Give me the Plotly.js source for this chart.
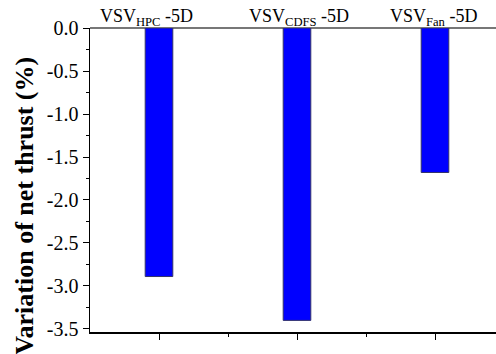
<!DOCTYPE html>
<html>
<head>
<meta charset="utf-8">
<script src="https://cdn.plot.ly/plotly-3.0.1.min.js"></script>
<style>html,body{margin:0;padding:0;background:#fff;overflow:hidden}</style>
</head>
<body>
<div id="chart" style="width:496px;height:354px"></div>
<script>
const categories = ["VSV<sub>HPC</sub> -5D", "VSV<sub>CDFS</sub> -5D", "VSV<sub>Fan</sub> -5D"];
const thrustVariation = [-2.89, -3.40, -1.68];
const yTickVals = [0, -0.5, -1.0, -1.5, -2.0, -2.5, -3.0, -3.5];
const yTickText = ["0.0", "-0.5", "-1.0", "-1.5", "-2.0", "-2.5", "-3.0", "-3.5"];
const yTitle = "Variation of net thrust (%)";

const xIdx = categories.map((_, i) => i);
const labelShift = [-13, 2, -2];

const trace = {
  type: "bar",
  x: xIdx,
  y: thrustVariation,
  width: 0.2,
  marker: { color: "#0000FF", line: { color: "#33336a", width: 1 } },
  hoverinfo: "none"
};

const annotations = categories.map((c, i) => ({
  text: c, x: i, xref: "x", y: 1, yref: "paper",
  xanchor: "center", yanchor: "bottom", yshift: -3, xshift: labelShift[i],
  showarrow: false,
  font: { family: "Liberation Serif, Times New Roman, serif", size: 18, color: "#000" }
}));
annotations.push({
  text: "<b>" + yTitle + "</b>", textangle: -90,
  xref: "paper", x: 0, xanchor: "center", xshift: -65,
  yref: "paper", y: 0.415, yanchor: "middle",
  showarrow: false,
  font: { family: "Liberation Serif, Times New Roman, serif", size: 26, color: "#000" }
});

const layout = {
  width: 496, height: 354,
  margin: { l: 90, r: 0, t: 28, b: 22 },
  paper_bgcolor: "#fff", plot_bgcolor: "#fff",
  showlegend: false,
  xaxis: {
    type: "linear", range: [-0.5, 2.442],
    showgrid: false, zeroline: false,
    showline: true, linecolor: "#000", linewidth: 1.5,
    ticks: "outside", ticklen: 6, tickwidth: 1, tickcolor: "#000",
    tickvals: xIdx, ticktext: xIdx.map(() => ""), showticklabels: false,
    minor: { tickvals: [0.5, 1.5], ticks: "outside", ticklen: 3, tickwidth: 1, tickcolor: "#000" }
  },
  yaxis: {
    range: [-3.535, 0],
    showgrid: false,
    zeroline: true, zerolinecolor: "#777", zerolinewidth: 1.5,
    showline: true, linecolor: "#000", linewidth: 1.5,
    ticks: "outside", ticklen: 6, tickwidth: 1, tickcolor: "#000",
    tickvals: yTickVals, ticktext: yTickText,
    tickfont: { family: "Liberation Serif, Times New Roman, serif", size: 20, color: "#000" },
    minor: { dtick: 0.25, ticks: "outside", ticklen: 3, tickwidth: 1, tickcolor: "#000" }
  },
  annotations: annotations
};

Plotly.newPlot("chart", [trace], layout, { displayModeBar: false, staticPlot: true });
</script>
</body>
</html>
